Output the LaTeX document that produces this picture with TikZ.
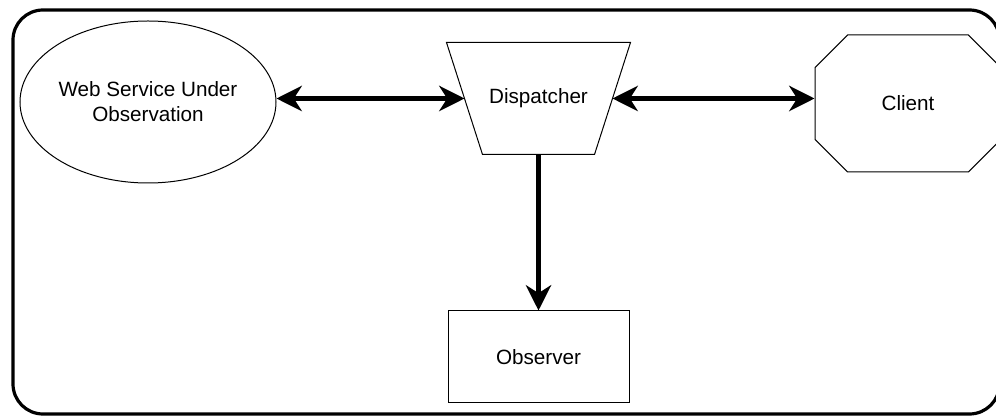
\documentclass[tikz,border=0pt]{standalone}
\usepackage{fontspec}
\setmainfont{Liberation Sans}
\usetikzlibrary{shapes.geometric,shapes.misc,arrows.meta}
\begin{document}
\begin{tikzpicture}[x=0.75pt,y=-0.75pt,
  every node/.style={font=\fontsize{15.5pt}{18.75pt}\selectfont, line width=0.75pt, draw, align=center, inner sep=0pt},
  outline/.style={line width=0.75pt},
  link/.style={line width=3.6pt, {Stealth[length=19pt,width=19pt,inset=6pt]}-{Stealth[length=19pt,width=19pt,inset=6pt]}},
  onelink/.style={line width=3.6pt, -{Stealth[length=19pt,width=19pt,inset=6pt]}}]
\useasboundingbox (0,0) rectangle (996,416);
\clip (0,0) rectangle (996,416);
% outer frame
\draw[line width=2.4pt, rounded corners=22.5pt] (13,10) rectangle (999.5,414);
% components
\node[ellipse, minimum width=192pt, minimum height=121.5pt] (web) at (148,102) {Web Service Under\\Observation};
% dispatcher: inverted trapezium drawn around its text node
\node[draw=none, rectangle, minimum width=137.25pt, minimum height=83.25pt] (disp) at (538.5,98.5) {Dispatcher};
\draw[outline] (disp.north west) -- (disp.north east) -- ([xshift=-27pt]disp.south east)
  -- ([xshift=27pt]disp.south west) -- cycle;
\coordinate (dispW) at ([xshift=13.5pt]disp.west);
\coordinate (dispE) at ([xshift=-13.5pt]disp.east);
\node[chamfered rectangle, chamfered rectangle xsep=18.75pt, chamfered rectangle ysep=18.75pt,
      minimum width=139.5pt, minimum height=102.75pt] (client) at (908,103.5) {Client};
\node[rectangle, minimum width=135.75pt, minimum height=69pt] (obs) at (538.5,357) {Observer};
% connectors
\draw[link] (dispW -| web.east) -- (dispW);
\draw[link] (dispE) -- (dispE -| client.west);
\draw[onelink] (disp.south) -- (obs.north);
\end{tikzpicture}
\end{document}
